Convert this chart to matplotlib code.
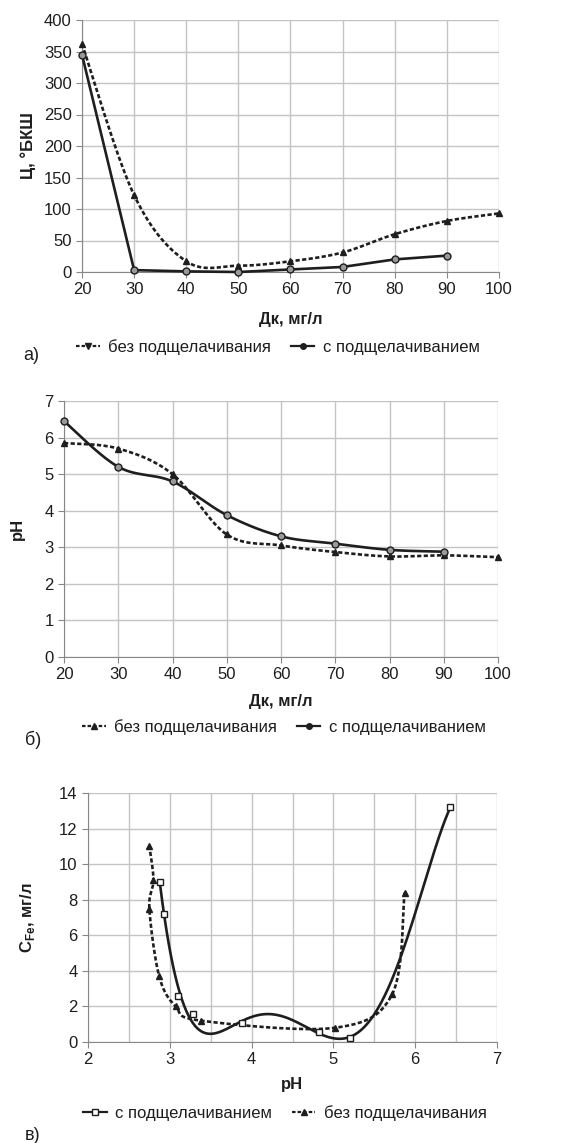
import numpy as np
import matplotlib
matplotlib.use("Agg")
import matplotlib.pyplot as plt
from matplotlib.lines import Line2D

plt.rcParams['font.family'] = ['Liberation Sans', 'DejaVu Sans']
plt.rcParams['mathtext.fontset'] = 'custom'
plt.rcParams['mathtext.rm'] = 'Liberation Sans'
plt.rcParams['mathtext.bf'] = 'Liberation Sans:bold'

# panel a: turbidity vs coagulant dose
dk_a = [20, 30, 40, 50, 60, 70, 80, 90, 100]
turb_no = [362, 122, 17, 10, 17, 31, 60, 81, 93]
dk_a_alk = [20, 30, 40, 50, 60, 70, 80, 90]
turb_alk = [345, 3, 1, 0, 4, 8, 20, 26]

# panel b: pH vs coagulant dose
ph_no = [5.85, 5.7, 5.0, 3.35, 3.05, 2.87, 2.75, 2.78, 2.73]
ph_alk = [6.45, 5.2, 4.8, 3.88, 3.3, 3.1, 2.93, 2.88]

# panel c: iron concentration vs pH
c_ph_alk = [2.88, 2.93, 3.1, 3.28, 3.88, 4.82, 5.2, 6.43]
c_fe_alk = [9.0, 7.2, 2.6, 1.55, 1.05, 0.55, 0.25, 13.2]
c_ph_no = [5.87, 5.72, 5.02, 3.38, 3.07, 2.87, 2.75, 2.8, 2.75]
c_fe_no = [8.4, 2.7, 0.8, 1.2, 2.0, 3.7, 7.5, 9.1, 11.0]

lbl_no = "без подщелачивания"
lbl_alk = "с подщелачиванием"

W, H = 563, 1143
fig = plt.figure(figsize=(W / 100, H / 100), dpi=100)
fig.patch.set_facecolor("white")

ink = "#1e1e1e"
dots = (0, (1.6, 0.9))


def smooth(x, y, n=30):
    # excel-like smoothing (catmull-rom through the points)
    p = np.column_stack([x, y]).astype(float)
    p = np.vstack([p[0], p, p[-1]])
    out = []
    for i in range(1, len(p) - 2):
        p0, p1, p2, p3 = p[i - 1], p[i], p[i + 1], p[i + 2]
        b1 = p1 + (p2 - p0) / 6
        b2 = p2 - (p3 - p1) / 6
        t = np.linspace(0, 1, n)[:, None]
        seg = (1 - t) ** 3 * p1 + 3 * (1 - t) ** 2 * t * b1 + 3 * (1 - t) * t ** 2 * b2 + t ** 3 * p2
        out.append(seg if i == 1 else seg[1:])
    c = np.vstack(out)
    return c[:, 0], c[:, 1]


def trend(x, y, deg=5, n=400):
    # polynomial trendline over the data range
    p = np.polyfit(x, y, deg)
    xs = np.linspace(min(x), max(x), n)
    return xs, np.polyval(p, xs)


def make_ax(l, r, t, b):
    ax = fig.add_axes([l / W, 1 - b / H, (r - l) / W, (b - t) / H])
    ax.grid(True, color="#c4c4c4", lw=1.0)
    ax.set_axisbelow(True)
    for s in ["top", "right"]:
        ax.spines[s].set_visible(False)
    for s in ["left", "bottom"]:
        ax.spines[s].set_color("#888888")
    ax.tick_params(labelsize=12, length=4, color="#888888", labelcolor=ink)
    return ax


def series(ax, x, y, ls, marker, mfc, how="smooth"):
    if how == "smooth":
        sx, sy = smooth(x, y)
    elif how == "trend":
        sx, sy = trend(x, y)
    else:
        sx, sy = x, y
    ax.plot(sx, sy, color=ink, lw=1.9, ls=ls, clip_on=False, zorder=3)
    ax.plot(x, y, ls="none", marker=marker, ms=5, mfc=mfc, mec=ink, mew=1,
            clip_on=False, zorder=4)


def add_legend(handles, labels, cx, cy):
    fig.legend(handles, labels, loc="center",
               bbox_to_anchor=(cx / W, 1 - cy / H), ncol=2, frameon=False,
               fontsize=12, handlelength=1.4, handletextpad=0.5,
               columnspacing=1.2, labelcolor=ink)


# ---- panel a
ax = make_ax(82, 499, 20, 272)
series(ax, dk_a, turb_no, dots, "^", ink)
series(ax, dk_a_alk, turb_alk, "-", "o", "#999999", how="line")
ax.set_xlim(20, 100)
ax.set_ylim(0, 400)
ax.set_xticks(range(20, 101, 10))
ax.set_yticks(range(0, 401, 50))
ax.set_xlabel("Дк, мг/л", fontsize=12, fontweight="bold", color=ink)
ax.set_ylabel("Ц, °БКШ", fontsize=12, fontweight="bold", color=ink)
ax.xaxis.set_label_coords(0.5, -0.16)
ax.yaxis.set_label_coords(-0.11, 0.5)

h1 = Line2D([], [], color=ink, lw=1.6, ls=dots, marker="v", ms=4, mfc=ink, mec=ink)
h2 = Line2D([], [], color=ink, lw=1.6, ls="-", marker="o", ms=4, mfc=ink, mec=ink)
add_legend([h1, h2], [lbl_no, lbl_alk], 278, 347)
fig.text(23 / W, 1 - 356 / H, "а)", fontsize=13, va="center", color=ink)

# ---- panel b
ax = make_ax(64, 498, 401, 657)
series(ax, dk_a, ph_no, dots, "^", ink)
series(ax, dk_a_alk, ph_alk, "-", "o", "#999999")
ax.set_xlim(20, 100)
ax.set_ylim(0, 7)
ax.set_xticks(range(20, 101, 10))
ax.set_yticks(range(0, 8))
ax.set_xlabel("Дк, мг/л", fontsize=12, fontweight="bold", color=ink)
ax.set_ylabel("pH", fontsize=12, fontweight="bold", color=ink)
ax.xaxis.set_label_coords(0.5, -0.145)
ax.yaxis.set_label_coords(-0.09, 0.5)

h1 = Line2D([], [], color=ink, lw=1.6, ls=dots, marker="^", ms=4, mfc=ink, mec=ink)
h2 = Line2D([], [], color=ink, lw=1.6, ls="-", marker="o", ms=4, mfc=ink, mec=ink)
add_legend([h1, h2], [lbl_no, lbl_alk], 284, 727)
fig.text(25 / W, 1 - 740 / H, "б)", fontsize=13, va="center", color=ink)

# ---- panel c
ax = make_ax(88, 497, 793, 1042)
series(ax, c_ph_alk, c_fe_alk, "-", "s", "white", how="trend")
series(ax, c_ph_no, c_fe_no, dots, "^", ink)
ax.set_xlim(2, 7)
ax.set_ylim(0, 14)
ax.set_xticks(range(2, 8))
ax.set_xticks(np.arange(2.5, 7, 1.0), minor=True)
ax.tick_params(axis="x", which="minor", length=0)
ax.grid(True, which="minor", axis="x", color="#c4c4c4", lw=1.0)
ax.set_yticks(range(0, 15, 2))
ax.set_xlabel("pH", fontsize=12, fontweight="bold", color=ink)
ax.set_ylabel(r"C$_{\mathbf{Fe}}$, мг/л", fontsize=12, fontweight="bold", color=ink)
ax.xaxis.set_label_coords(0.5, -0.14)
ax.yaxis.set_label_coords(-0.125, 0.5)

h1 = Line2D([], [], color=ink, lw=1.6, ls="-", marker="s", ms=4, mfc="white", mec=ink)
h2 = Line2D([], [], color=ink, lw=1.6, ls=dots, marker="^", ms=4, mfc=ink, mec=ink)
add_legend([h1, h2], [lbl_alk, lbl_no], 285, 1113)
fig.text(25 / W, 1 - 1135 / H, "в)", fontsize=13, va="center", color=ink)

fig.savefig("out.png", dpi=100)
